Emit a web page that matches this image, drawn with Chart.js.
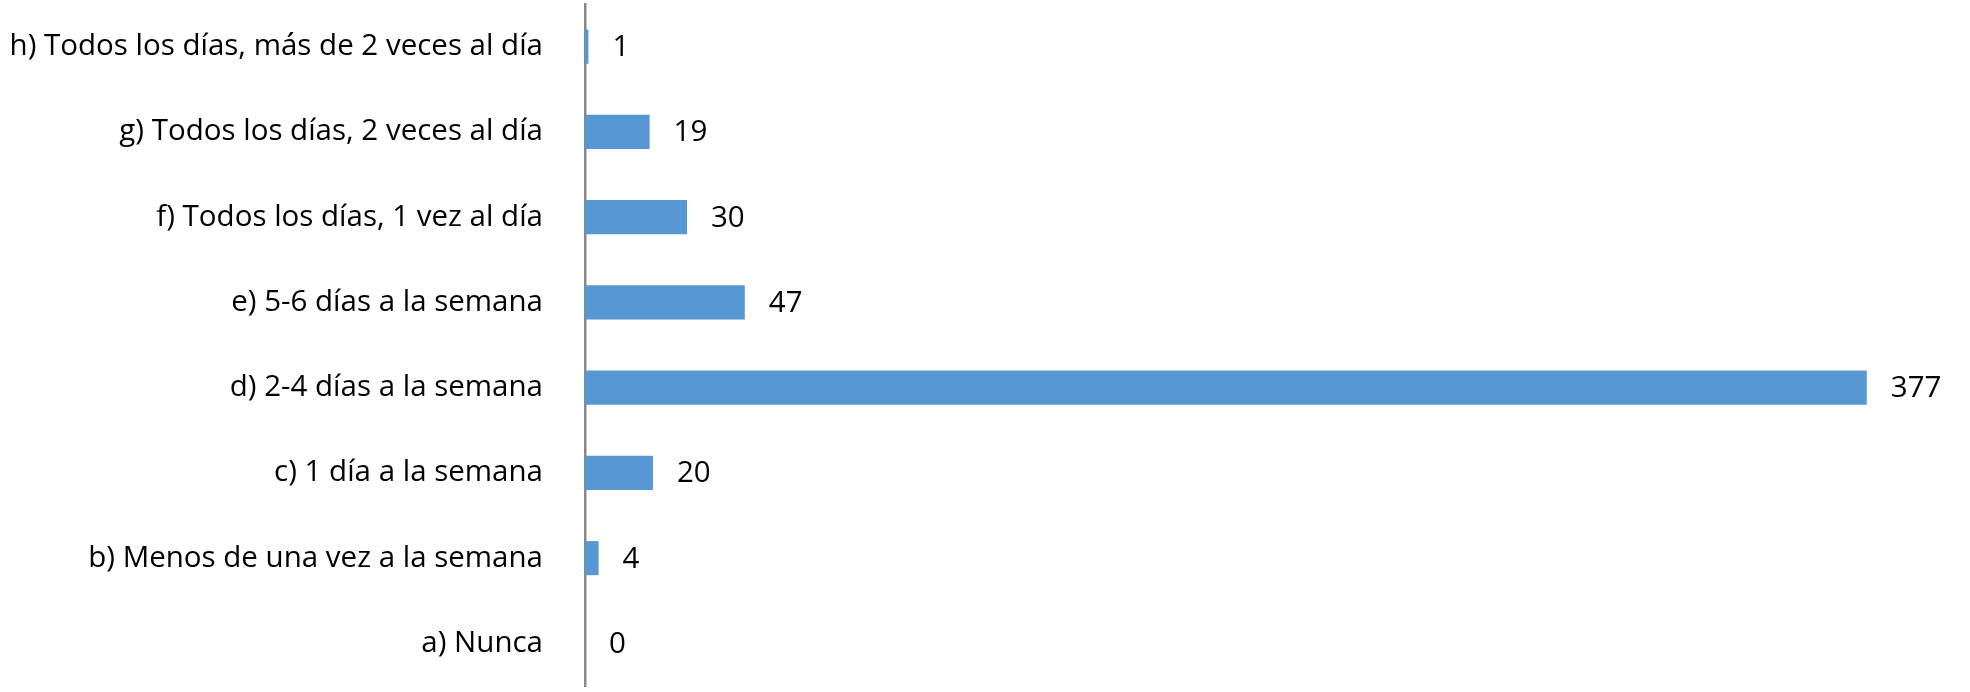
<!DOCTYPE html>
<html>
<head>
<meta charset="utf-8">
<script src="https://cdn.jsdelivr.net/npm/chart.js@4/dist/chart.umd.min.js"></script>
<style>
  html, body { margin: 0; padding: 0; background: #fff; }
  #wrap { width: 1970px; height: 692px; }
</style>
</head>
<body>
<div id="wrap"><canvas id="c" width="1970" height="692"></canvas></div>
<script>
const categories = [
  "h) Todos los días, más de 2 veces al día",
  "g) Todos los días, 2 veces al día",
  "f) Todos los días, 1 vez al día",
  "e) 5-6 días a la semana",
  "d) 2-4 días a la semana",
  "c) 1 día a la semana",
  "b) Menos de una vez a la semana",
  "a) Nunca"
];
const values = [1, 19, 30, 47, 377, 20, 4, 0];
const axisMax = 400;

const FONT = "'Open Sans', sans-serif";
const FONT_SIZE = 29.5;

const valueLabels = {
  id: 'valueLabels',
  afterDatasetsDraw(chart) {
    const ctx = chart.ctx;
    const meta = chart.getDatasetMeta(0);
    ctx.save();
    ctx.font = FONT_SIZE + "px " + FONT;
    ctx.fillStyle = "#000";
    ctx.textAlign = "left";
    ctx.textBaseline = "middle";
    meta.data.forEach((bar, i) => {
      ctx.fillText(String(values[i]), bar.x + 24, bar.y + 1);
    });
    ctx.restore();
  }
};

new Chart(document.getElementById('c'), {
  type: 'bar',
  data: {
    labels: categories,
    datasets: [{
      data: values,
      backgroundColor: '#5797d3',
      borderWidth: 0,
      categoryPercentage: 1,
      barPercentage: 0.4
    }]
  },
  options: {
    indexAxis: 'y',
    responsive: false,
    animation: false,
    devicePixelRatio: 1,
    layout: { padding: { top: 4, bottom: 6, left: 0, right: 25 } },
    plugins: { legend: { display: false }, tooltip: { enabled: false } },
    scales: {
      x: { display: false, min: 0, max: axisMax },
      y: {
        grid: { display: false, drawTicks: true, tickLength: 40 },
        border: { display: true, color: '#888888', width: 2.5 },
        ticks: { color: '#000', font: { family: FONT, size: FONT_SIZE }, padding: 2 },
        afterFit(scale) {
          scale.width = 585;
          scale.paddingTop = 0;
          scale.paddingBottom = 0;
        }
      }
    }
  },
  plugins: [valueLabels]
});
</script>
</body>
</html>
